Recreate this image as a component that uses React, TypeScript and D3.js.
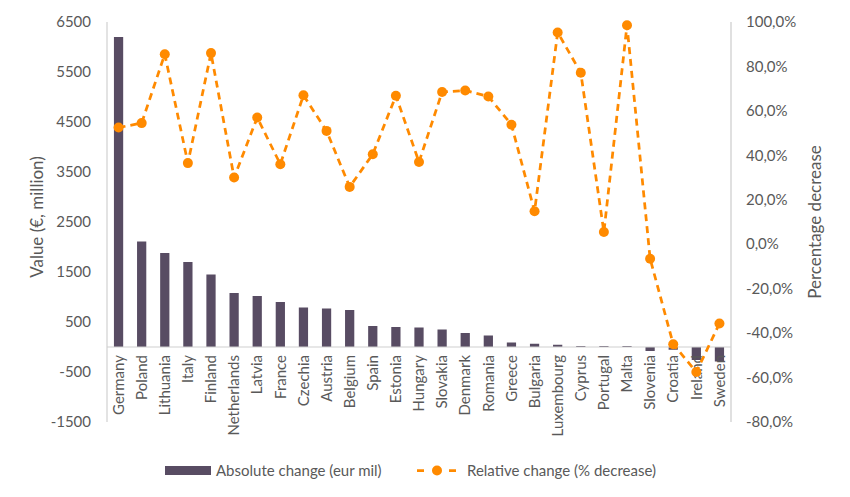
import React from "react";
import * as d3 from "d3";

const countries = ["Germany","Poland","Lithuania","Italy","Finland","Netherlands","Latvia","France","Czechia","Austria","Belgium","Spain","Estonia","Hungary","Slovakia","Denmark","Romania","Greece","Bulgaria","Luxembourg","Cyprus","Portugal","Malta","Slovenia","Croatia","Ireland","Sweden"];
const absoluteChange = [6200,2110,1880,1700,1450,1080,1020,900,790,770,740,420,400,390,350,280,230,90,65,45,20,20,20,-80,-55,-260,-290];
const relativeChange = [52.5,54.5,85.5,36.5,86,30,57,36,67,51,25.8,40.5,66.8,37,68.5,69.2,66.5,53.8,14.8,95.3,77.2,5.5,98.5,-6.5,-45,-57.5,-35.7];
const leftTicks = [6500,5500,4500,3500,2500,1500,500,-500,-1500];
const rightTicks = [1.0,0.8,0.6,0.4,0.2,0,-0.2,-0.4,-0.6,-0.8];

const W = 850, H = 497;
const left = 107, right = 731, top = 22, bottom = 422;
const FONT = "Lato, 'Open Sans', sans-serif";
const GREY = "#595959";
const BAR = "#584c63";
const ORANGE = "#ff8a00";

export default function App() {
  const x = d3.scaleBand<string>().domain(countries).range([left, right]);
  const yL = d3.scaleLinear().domain([-1500, 6500]).range([bottom, top]);
  const yR = d3.scaleLinear().domain([-0.8, 1.0]).range([bottom, top]);
  const bw = x.bandwidth() * 0.4;
  const line = d3.line<number>()
    .x((_, i) => (x(countries[i]) as number) + x.bandwidth() / 2)
    .y((d) => yR(d / 100));
  const fmtR = (v: number) => (v * 100).toFixed(1).replace(".", ",") + "%";
  const y0 = yL(0);
  return (
    <svg width={W} height={H} style={{ position: "absolute", left: 0, top: 0, background: "#fff" }} fontFamily={FONT}>
      {/* axes */}
      <line x1={left} x2={left} y1={top} y2={bottom} stroke="#d0d0d0" strokeWidth={1.2} />
      <line x1={right} x2={right} y1={top} y2={bottom} stroke="#d9d9d9" strokeWidth={1.6} />
      {/* bars */}
      {absoluteChange.map((v, i) => (
        <rect key={countries[i]} x={(x(countries[i]) as number) + (x.bandwidth() - bw) / 2}
          y={Math.min(yL(v), y0)} width={bw} height={Math.abs(yL(v) - y0)} fill={BAR} />
      ))}
      <line x1={left} x2={right} y1={y0} y2={y0} stroke="#d0d0d0" strokeWidth={1.2} />
      {/* left ticks */}
      {leftTicks.map((t) => (
        <text key={t} x={91} y={yL(t)} dy="0.35em" textAnchor="end" fontSize={15} fill={GREY}>{t}</text>
      ))}
      {/* right ticks */}
      {rightTicks.map((t) => (
        <text key={t} x={746} y={yR(t)} dy="0.35em" textAnchor="start" fontSize={15} fill={GREY}>{fmtR(t)}</text>
      ))}
      {/* category labels */}
      {countries.map((c) => {
        const cx = (x(c) as number) + x.bandwidth() / 2;
        return (
          <text key={c} transform={`translate(${cx},${y0 + 8}) rotate(-90)`} textAnchor="end" dy="0.35em" fontSize={15} fill={GREY}>{c}</text>
        );
      })}
      {/* line */}
      <path d={line(relativeChange) || ""} fill="none" stroke={ORANGE} strokeWidth={2.75} strokeDasharray="7 5" />
      {relativeChange.map((v, i) => (
        <circle key={i} cx={(x(countries[i]) as number) + x.bandwidth() / 2} cy={yR(v / 100)} r={5} fill={ORANGE} />
      ))}
      {/* axis titles */}
      <text transform={`translate(37,${(top + bottom) / 2 - 5}) rotate(-90)`} textAnchor="middle" dy="0.35em" fontSize={17} fill={GREY}>Value (€, million)</text>
      <text transform={`translate(815,${(top + bottom) / 2}) rotate(-90)`} textAnchor="middle" dy="0.35em" fontSize={17} fill={GREY}>Percentage decrease</text>
      {/* legend */}
      <rect x={165} y={466} width={46} height={9} fill={BAR} />
      <text x={216} y={470.5} dy="0.35em" fontSize={15} fill={GREY}>Absolute change (eur mil)</text>
      <line x1={417} x2={456} y1={470.5} y2={470.5} stroke={ORANGE} strokeWidth={2.75} strokeDasharray="7 9" />
      <circle cx={437} cy={470.5} r={5} fill={ORANGE} />
      <text x={467} y={470.5} dy="0.35em" fontSize={15} fill={GREY}>Relative change (% decrease)</text>
    </svg>
  );
}
